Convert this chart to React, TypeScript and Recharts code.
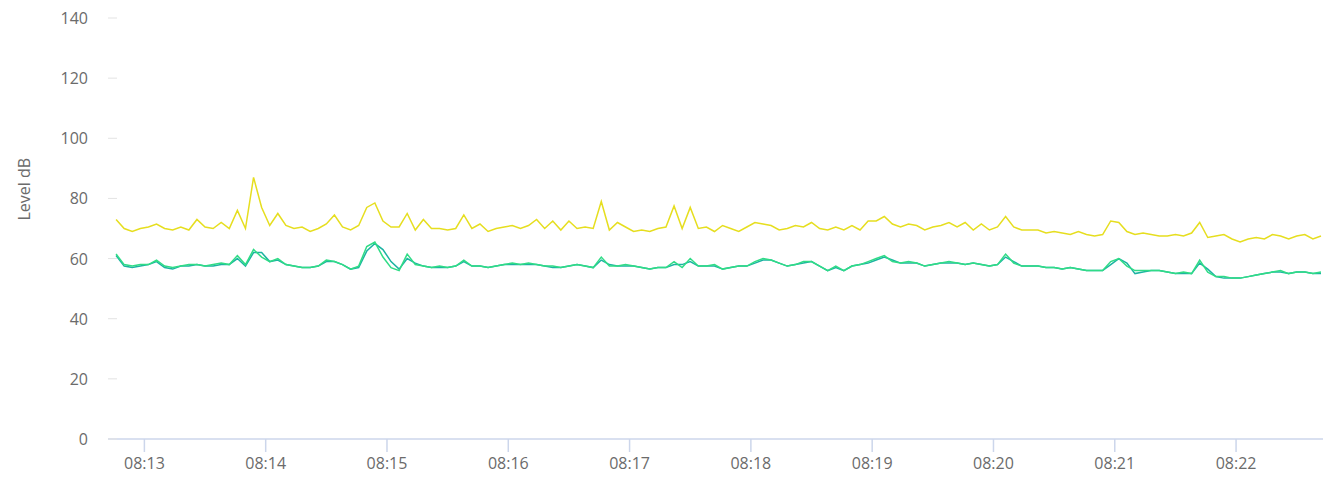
import { LineChart, Line, XAxis, YAxis } from "recharts";

// ── x-axis tick labels (hh:mm) ──
const timeLabels = ["08:13", "08:14", "08:15", "08:16", "08:17", "08:18", "08:19", "08:20", "08:21", "08:22"];
const yTicks = [0, 20, 40, 60, 80, 100, 120, 140];

// ── samples: start time + step (seconds) ──
const startTime = "08:12:46";
const stepSec = 4;

// ── series values, dB ──
const yellowLevel = [
  73, 70, 69, 70, 70.5, 71.5, 70, 69.5, 70.5, 69.5,
  73, 70.5, 70, 72, 70, 76, 70, 87, 77, 71,
  75, 71, 70, 70.5, 69, 70, 71.5, 74.5, 70.5, 69.5,
  71, 77, 78.5, 72.5, 70.5, 70.5, 75, 69.5, 73, 70,
  70, 69.5, 70, 74.5, 70, 71.5, 69, 70, 70.5, 71,
  70, 71, 73, 70, 72.5, 69.5, 72.5, 70, 70.5, 70,
  79, 69.5, 72, 70.5, 69, 69.5, 69, 70, 70.5, 77.5,
  70, 77, 70, 70.5, 69, 71, 70, 69, 70.5, 72,
  71.5, 71, 69.5, 70, 71, 70.5, 72, 70, 69.5, 70.5,
  69.5, 71, 69.5, 72.5, 72.5, 74, 71.5, 70.5, 71.5, 71,
  69.5, 70.5, 71, 72, 70.5, 72, 69.5, 71.5, 69.5, 70.5,
  74, 70.5, 69.5, 69.5, 69.5, 68.5, 69, 68.5, 68, 69,
  68, 67.5, 68, 72.5, 72, 69, 68, 68.5, 68, 67.5,
  67.5, 68, 67.5, 68.5, 72, 67, 67.5, 68, 66.5, 65.5,
  66.5, 67, 66.5, 68, 67.5, 66.5, 67.5, 68, 66.5, 67.5,
];

const tealLevel = [
  61, 57.5, 57, 57.5, 58, 59, 57, 56.5, 57.5, 57.5,
  58, 57.5, 57.5, 58, 58, 60, 57.5, 62, 62, 59,
  59.5, 58, 57.5, 57, 57, 57.5, 59, 59, 58, 56.5,
  57, 62.5, 65, 63, 59, 56.5, 60, 58.5, 57.5, 57,
  57, 57, 57.5, 59, 57.5, 57.5, 57, 57.5, 58, 58,
  58, 58, 58, 57.5, 57, 57, 57.5, 58, 57.5, 57,
  59.5, 58, 57.5, 57.5, 57.5, 57, 56.5, 57, 57, 58,
  58, 59, 57.5, 57.5, 57.5, 56.5, 57, 57.5, 57.5, 58.5,
  59.5, 59.5, 58.5, 57.5, 58, 58.5, 59, 57.5, 56, 57,
  56, 57.5, 58, 58.5, 59.5, 60.5, 59.5, 58.5, 58.5, 58.5,
  57.5, 58, 58.5, 58.5, 58.5, 58, 58.5, 58, 57.5, 58,
  60.5, 59, 57.5, 57.5, 57.5, 57, 57, 56.5, 57, 56.5,
  56, 56, 56, 58, 60, 58.5, 55, 55.5, 56, 56,
  55.5, 55, 55, 55, 58.5, 56.5, 54, 53.5, 53.5, 53.5,
  54, 54.5, 55, 55.5, 55.5, 55, 55.5, 55.5, 55, 55,
];

const greenLevel = [
  61.5, 58, 57.5, 58, 58, 59.5, 57.5, 57, 57.5, 58,
  58, 57.5, 58, 58.5, 58, 61, 58, 63, 60.5, 59,
  60, 58, 57.5, 57, 57, 57.5, 59.5, 59, 58, 56.5,
  57.5, 64, 65.5, 60.5, 57, 56, 61.5, 58, 57.5, 57,
  57.5, 57, 57.5, 59.5, 57.5, 57.5, 57, 57.5, 58, 58.5,
  58, 58.5, 58, 57.5, 57.5, 57, 57.5, 58, 57.5, 57,
  60.5, 57.5, 57.5, 58, 57.5, 57, 56.5, 57, 57, 59,
  57, 60, 57.5, 57.5, 58, 56.5, 57, 57.5, 57.5, 59,
  60, 59.5, 58.5, 57.5, 58, 59, 59, 57.5, 56, 57.5,
  56, 57.5, 58, 59, 60, 61, 59, 58.5, 59, 58.5,
  57.5, 58, 58.5, 59, 58.5, 58, 58.5, 58, 57.5, 58,
  61.5, 58.5, 57.5, 57.5, 57.5, 57, 57, 56.5, 57, 56.5,
  56, 56, 56, 59, 60, 57.5, 56, 56, 56, 56,
  55.5, 55, 55.5, 55, 59.5, 55.5, 54, 54, 53.5, 53.5,
  54, 54.5, 55, 55.5, 56, 55, 55.5, 55.5, 55, 55.5,
];

const toSec = (s: string) => {
  const [h, m, sec] = s.split(":").map(Number);
  return h * 3600 + m * 60 + (sec || 0);
};
const fmtTime = (v: number) => {
  const h = Math.floor(v / 3600);
  const m = Math.floor((v % 3600) / 60);
  return `${String(h).padStart(2, "0")}:${String(m).padStart(2, "0")}`;
};

const t0 = toSec(startTime);
const rows = yellowLevel.map((v, i) => ({
  t: t0 + i * stepSec,
  yellow: v,
  teal: tealLevel[i],
  green: greenLevel[i],
}));
const xTicks = timeLabels.map(toSec);
const xDomain = [t0 - 4, t0 + 597];

const PLOT_LEFT = 100;

// eslint-disable-next-line @typescript-eslint/no-explicit-any
function YTick(props: any) {
  const { y, payload } = props;
  return (
    <g>
      <line x1={PLOT_LEFT} x2={PLOT_LEFT + 9} y1={y} y2={y} stroke="#e3e3e3" />
      <text x={80} y={y} dy={6} textAnchor="end" fill="#6b6b6b" fontSize={16}>
        {payload.value}
      </text>
    </g>
  );
}

export default function App() {
  return (
    <div style={{ fontFamily: "'Open Sans', sans-serif" }}>
      <LineChart width={1319} height={468} data={rows} margin={{ top: 10, right: 4, left: 0, bottom: 0 }}>
        <XAxis
          dataKey="t"
          type="number"
          domain={xDomain}
          ticks={xTicks}
          tickFormatter={fmtTime}
          allowDataOverflow
          height={37}
          stroke="#ccd6eb"
          strokeWidth={1.5}
          tickSize={13}
          tickMargin={6}
          tick={{ fill: "#6b6b6b", fontSize: 16 }}
        />
        <YAxis
          width={100}
          domain={[0, 140]}
          ticks={yTicks}
          axisLine={false}
          tickLine={false}
          tick={<YTick />}
          label={{ value: "Level dB", angle: -90, position: "insideLeft", offset: 16, dy: -8, fill: "#6b6b6b", fontSize: 16 }}
        />
        <Line type="linear" dataKey="yellow" stroke="#e6de1f" strokeWidth={1.5} dot={false} isAnimationActive={false} />
        <Line type="linear" dataKey="teal" stroke="#1cb3a2" strokeWidth={1.5} dot={false} isAnimationActive={false} />
        <Line type="linear" dataKey="green" stroke="#30dc86" strokeWidth={1.5} dot={false} isAnimationActive={false} />
      </LineChart>
    </div>
  );
}
